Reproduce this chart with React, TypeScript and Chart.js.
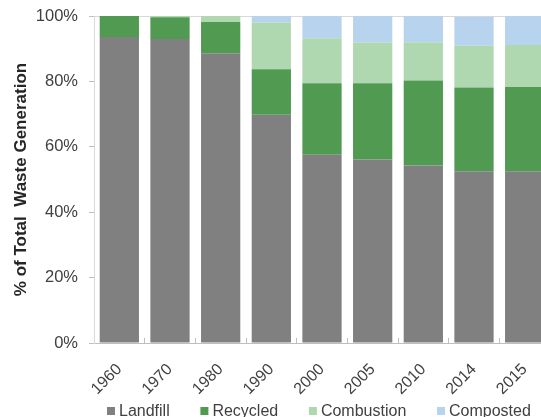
import React, { useEffect, useRef } from 'react';
import { Chart, registerables } from 'chart.js';

Chart.register(...registerables);

const years = ['1960', '1970', '1980', '1990', '2000', '2005', '2010', '2014', '2015'];
const landfill = [93.6, 93.0, 88.6, 69.8, 57.6, 56.1, 54.3, 52.5, 52.5];
const recycled = [6.4, 6.6, 9.6, 13.9, 21.8, 23.3, 26.0, 25.6, 25.8];
const combustion = [0, 0.4, 1.8, 14.3, 13.8, 12.5, 11.7, 12.8, 12.8];
const composted = [0, 0, 0, 2.0, 6.8, 8.1, 8.0, 8.9, 8.9];
const seriesNames = ['Landfill', 'Recycled', 'Combustion', 'Composted'];
const yTickStep = 20;
const yMax = 100;

const FONT = '"Liberation Sans", Arial, sans-serif';
const colors = ['#808080', '#509A51', '#B0D8B0', '#B8D3EE'];

const legendPlugin = {
  id: 'bottomLegend',
  afterDraw(chart: any) {
    const { ctx } = chart;
    ctx.save();
    ctx.font = `16px ${FONT}`;
    ctx.textBaseline = 'alphabetic';
    ctx.textAlign = 'left';
    let x = 107;
    const base = 416;
    chart.data.datasets.forEach((ds: any) => {
      ctx.fillStyle = ds.backgroundColor;
      ctx.fillRect(x, 407, 8, 8);
      x += 12;
      ctx.fillStyle = '#404040';
      ctx.fillText(ds.label, x, base);
      x += ctx.measureText(ds.label).width + 30.7;
    });
    ctx.restore();
  },
};

export default function App() {
  const ref = useRef<HTMLCanvasElement>(null);

  useEffect(() => {
    if (!ref.current) return;
    const data = [landfill, recycled, combustion, composted];
    const chart = new Chart(ref.current, {
      type: 'bar',
      data: {
        labels: years,
        datasets: data.map((d, i) => ({
          label: seriesNames[i],
          data: d,
          backgroundColor: colors[i],
          borderWidth: 0,
          categoryPercentage: 1,
          barPercentage: 0.775,
        })),
      },
      options: {
        responsive: false,
        animation: false,
        devicePixelRatio: 1,
        layout: { padding: { left: 7, top: 16, right: 10, bottom: 0 } },
        plugins: {
          legend: { display: false },
          tooltip: { enabled: false },
        },
        scales: {
          x: {
            stacked: true,
            grid: {
              display: true,
              drawOnChartArea: false,
              drawTicks: true,
              tickLength: -5,
              color: '#bfbfbf',
              offset: true,
            },
            border: { color: '#bfbfbf' },
            ticks: {
              autoSkip: false,
              minRotation: 45,
              maxRotation: 45,
              color: '#404040',
              font: { family: FONT, size: 16 },
              padding: 22,
            },
            afterFit: (s: any) => {
              s.height = 74;
              s.paddingLeft = 0;
              s.paddingRight = 0;
            },
          },
          y: {
            stacked: true,
            min: 0,
            max: yMax,
            ticks: {
              stepSize: yTickStep,
              callback: (v: any) => v + '%',
              color: '#404040',
              font: { family: FONT, size: 16.5 },
              padding: 11,
            },
            grid: {
              color: (c: any) => (c.tick && c.tick.value === yMax ? '#d9d9d9' : 'rgba(0,0,0,0)'),
              tickColor: '#bfbfbf',
              tickLength: 5,
            },
            border: { color: '#d9d9d9' },
            title: {
              display: true,
              text: '% of Total  Waste Generation',
              color: '#262626',
              font: { family: FONT, size: 17, weight: 'bold' },
              padding: { top: 4, bottom: 0 },
            },
            afterFit: (s: any) => {
              s.width = 87;
              s.paddingTop = 0;
              s.paddingBottom = 0;
            },
          },
        },
      },
      plugins: [legendPlugin],
    });
    return () => chart.destroy();
  }, []);

  return (
    <div style={{ position: 'fixed', left: 0, top: 0, width: 541, height: 417, overflow: 'hidden', background: '#fff' }}>
      <canvas ref={ref} width={560} height={417} style={{ display: 'block' }} />
    </div>
  );
}
